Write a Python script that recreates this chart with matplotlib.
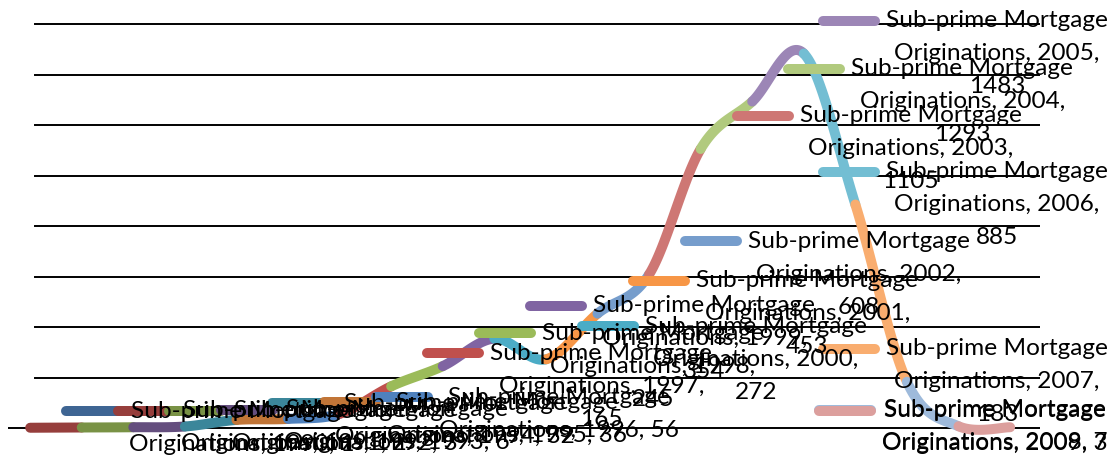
import matplotlib
matplotlib.use("Agg")
import matplotlib.pyplot as plt
from matplotlib.lines import Line2D
from matplotlib.transforms import IdentityTransform
import numpy as np

years = list(range(1990, 2010))
originations = [1, 2, 3, 6, 32, 36, 56, 165, 245, 354, 272, 453, 608,
                1105, 1293, 1483, 885, 183, 7, 3]
series_words = ["Sub-prime Mortgage", "Originations"]
accents = ["#4F81BD", "#C0504D", "#9BBB59", "#8064A2", "#4BACC6", "#F79646"]

W_PX, H_PX = 1115, 476
FONT = "Lato"


def to_rgb(h):
    return np.array([int(h[k:k + 2], 16) for k in (1, 3, 5)]) / 255.0


# Excel cycles the six accents, darker first, then plain, then lighter
point_colors = []
for i in range(len(years)):
    base = to_rgb(accents[i % 6])
    cycle = i // 6
    if cycle == 0:
        c = base * 0.78
    elif cycle == 1:
        c = base
    elif cycle == 2:
        c = base + (1 - base) * 0.22
    else:
        c = base + (1 - base) * 0.45
    point_colors.append(tuple(c))

fig = plt.figure(figsize=(W_PX / 100, H_PX / 100), dpi=100)
# plot area: value 0 sits at 428 px, 1600 at 24 px from the top
ax = fig.add_axes([8 / W_PX, 42.95 / H_PX, 1032 / W_PX, 414.1 / H_PX])
ax.set_xlim(-0.43, 19.58)
ax.set_ylim(-20, 1620)
ax.set_xticks([])
ax.set_yticks([])
for s in ax.spines.values():
    s.set_visible(False)

# horizontal gridlines; the zero line runs a little further left
for gv in np.arange(0, 1601, 200):
    ax.axhline(gv, xmin=0 if gv == 0 else 0.026, xmax=1, color="black",
               lw=1.4, zorder=1)

# smoothed line, one colour per segment (colour of the end point)
x = np.arange(len(years), dtype=float)
y = np.array(originations, dtype=float)
pts = np.column_stack([x, y])
n = len(pts)
t = np.linspace(0, 1, 60)[:, None]
for i in range(1, n):
    p0 = pts[max(i - 2, 0)]
    p1 = pts[i - 1]
    p2 = pts[i]
    p3 = pts[min(i + 1, n - 1)]
    c1 = p1 + (p2 - p0) / 6
    c2 = p2 - (p3 - p1) / 6
    seg = (1 - t) ** 3 * p1 + 3 * (1 - t) ** 2 * t * c1 + 3 * (1 - t) * t ** 2 * c2 + t ** 3 * p2
    ax.plot(seg[:, 0], seg[:, 1], color=point_colors[i], lw=7.2,
            solid_capstyle="round", zorder=2, clip_on=False)

# data labels with legend keys
renderer = fig.canvas.get_renderer()
probe = fig.text(0, 0, series_words[0], fontsize=10, family=FONT)
fs = 10 * 222 / probe.get_window_extent(renderer).width
probe.remove()


def text_width(s):
    tt = fig.text(0, 0, s, fontsize=fs, family=FONT)
    w = tt.get_window_extent(renderer).width
    tt.remove()
    return w


# wrap width: two-digit values stay on the second line, longer ones wrap
wrap_w = (text_width(f"{series_words[1]}, 2000, 00") +
          text_width(f"{series_words[1]}, 2000, 000")) / 2
line_gap = 33
for i, (yr, v) in enumerate(zip(years, originations)):
    second = f"{series_words[1]}, {yr}, {v}"
    if text_width(second) > wrap_w:
        lines = [series_words[0], f"{series_words[1]}, {yr},", f"{v}"]
    else:
        lines = [series_words[0], second]
    block_w = max(text_width(s) for s in lines)
    px, py = ax.transData.transform((i, v))
    key_x = min(px + 31, W_PX - 7 - 68 - block_w)
    top_y = py + (len(lines) - 1) / 2 * line_gap
    fig.add_artist(Line2D([key_x + 5, key_x + 57], [top_y, top_y],
                          transform=IdentityTransform(), color=point_colors[i],
                          lw=7.2, solid_capstyle="round", zorder=3))
    cx = key_x + 68 + block_w / 2
    for k, s in enumerate(lines):
        fig.text(cx, top_y - k * line_gap, s, transform=IdentityTransform(),
                 ha="center", va="center", fontsize=fs, family=FONT,
                 color="black", zorder=4)

fig.savefig("out.png", dpi=100)
